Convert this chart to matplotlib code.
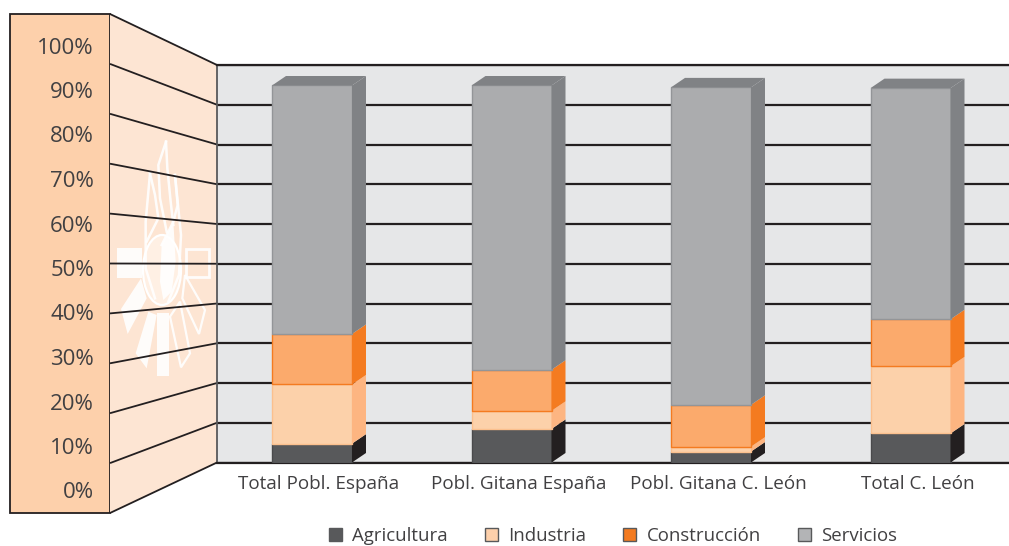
import numpy as np
import matplotlib
matplotlib.use('Agg')
import matplotlib.pyplot as plt
from matplotlib.patches import Polygon, Rectangle, Ellipse, Patch

plt.rcParams['font.family'] = ['Open Sans', 'DejaVu Sans']

categorias = ['Total Pobl. España', 'Pobl. Gitana España', 'Pobl. Gitana C. León', 'Total C. León']
sectores = ['Agricultura', 'Industria', 'Construcción', 'Servicios']
agricultura = [5.0, 8.9, 2.9, 7.7]
industria = [15.7, 4.8, 1.3, 17.8]
construccion = [13.4, 10.9, 11.1, 12.5]
servicios = [65.9, 75.4, 84.2, 61.3]
ticks = [0, 10, 20, 30, 40, 50, 60, 70, 80, 90, 100]

frente = ['#58595b', '#fcd1aa', '#fbaa6c', '#abacae']
borde = ['#4a4a4c', '#fbc08e', '#f47b20', '#939598']
lateral = ['#231f20', '#fdb581', '#f47b20', '#808285']
leyenda = ['#58595b', '#fdd0ab', '#f47b20', '#b3b4b6']
oscuro = '#231f20'
texto = '#414042'

W, H = 1009, 546
fig = plt.figure(figsize=(W / 100, H / 100), dpi=100)

# fondo en pixeles: panel izquierdo y pared lateral
bg = fig.add_axes([0, 0, 1, 1], zorder=0)
bg.set_xlim(0, W)
bg.set_ylim(H, 0)
bg.axis('off')

bg.add_patch(Rectangle((10, 14), 100, 499, fc='#fdd0ab', ec=oscuro, lw=1.3))
bg.add_patch(Polygon([(110, 14), (217, 65), (217, 462), (110, 513)], fc='#fde5d3', ec='none'))

# emblema blanco de la pared
blanco = dict(fc='white', ec='none', alpha=0.9)
linea = dict(fc='none', ec='white', lw=1.6, alpha=0.9)


def z(puntos):
    return [(105 + a / 3, 135 + b / 3) for a, b in puntos]


bg.add_patch(Rectangle((117, 248), 25, 30, **blanco))
bg.add_patch(Rectangle((186, 249), 23, 28, fc='none', ec='white', lw=2, alpha=0.9))
bg.add_patch(Ellipse((162, 270), 38, 70, fc='#fff0e4', ec='white', lw=1.6))
bg.add_patch(Polygon(z([(170, 330), (205, 260), (212, 380), (200, 470), (175, 495), (165, 440)]), **blanco))
bg.add_patch(Polygon(z([(108, 430), (48, 522), (68, 597), (125, 490)]), **blanco))
bg.add_patch(Polygon(z([(130, 530), (92, 655), (125, 700), (155, 540)]), **blanco))
bg.add_patch(Polygon(z([(157, 535), (192, 535), (192, 723), (157, 723)]), **blanco))
bg.add_patch(Polygon(z([(195, 545), (228, 697), (255, 655), (225, 500)]), **linea))
bg.add_patch(Polygon(z([(240, 420), (300, 525), (282, 597), (232, 490)]), **linea))
for trazo in ([(183, 20), (160, 90), (165, 190), (185, 290)],
              [(183, 20), (187, 100), (197, 200), (205, 270)],
              [(135, 115), (150, 180), (160, 250), (125, 320)],
              [(135, 115), (122, 260), (122, 400), (150, 490)],
              [(210, 120), (218, 210), (205, 260), (170, 330)],
              [(210, 120), (228, 300), (222, 420), (190, 500)]):
    xs, ys = zip(*z(trazo))
    bg.plot(xs, ys, color='white', lw=1.8, alpha=0.9)

for t in ticks:
    bg.plot([110, 217], [513 - 4.99 * t, 462.5 - 3.975 * t], color=oscuro, lw=1.3,
            solid_capstyle='butt')
    bg.text(94, 493 - 4.45 * t, f'{t}%', ha='right', va='center', fontsize=16, color=texto)

# pared del fondo con las barras: y en %, x por categoria
ax = fig.add_axes([217 / W, 1 - 462.5 / H, (W - 217) / W, 397.5 / H], zorder=1)
ax.set_facecolor('#e6e7e8')
x = np.arange(len(categorias))
paso = 199.5
ax.set_xlim(-95 / paso, (W - 312) / paso)
ax.set_ylim(0, 100)
ax.set_axisbelow(True)
ax.yaxis.grid(True, color=oscuro, lw=1.6)
ax.set_yticks(ticks)
ax.tick_params(axis='y', length=0, labelleft=False)

ancho = 80 / paso
fondo_x = 14 / paso
fondo_y = 9.5 / 3.975
escala = 377 / 397.5  # la cara frontal va a menor escala que la pared

abajo = np.zeros(len(categorias))
for i, serie in enumerate([agricultura, industria, construccion, servicios]):
    alto = np.array(serie) * escala
    ax.bar(x, alto, ancho, bottom=abajo, color=frente[i], edgecolor=borde[i], lw=1.0, zorder=3)
    for xc, b, h in zip(x, abajo, alto):
        der = xc + ancho / 2
        ax.add_patch(Polygon([(der, b), (der + fondo_x, b + fondo_y),
                              (der + fondo_x, b + h + fondo_y), (der, b + h)],
                             fc=lateral[i], ec='none', zorder=3))
    abajo = abajo + alto

for xc, tope in zip(x, abajo):
    izq, der = xc - ancho / 2, xc + ancho / 2
    ax.add_patch(Polygon([(izq, tope), (izq + fondo_x, tope + fondo_y),
                          (der + fondo_x, tope + fondo_y), (der, tope)],
                         fc=lateral[3], ec='none', zorder=3))

for lado, spine in ax.spines.items():
    spine.set_color(oscuro)
    spine.set_linewidth(1.6)
ax.spines['right'].set_visible(False)
ax.spines['left'].set_color('#58595b')
ax.spines['left'].set_linewidth(1.3)

ax.set_xticks(x + fondo_x / 2)
ax.set_xticklabels(categorias, fontsize=13.6, color=texto)
ax.tick_params(axis='x', length=0, pad=9)

handles = [Patch(fc=c, ec='#58595b', lw=1.0) for c in leyenda]
fig.legend(handles, sectores, loc='center', bbox_to_anchor=(613 / W, 1 - 536 / H), ncol=4,
           frameon=False, fontsize=13.4, labelcolor=texto, handlelength=0.7, handleheight=0.7,
           handletextpad=0.55, columnspacing=2.0, borderpad=0, borderaxespad=0)

fig.savefig('out.png', dpi=100)
